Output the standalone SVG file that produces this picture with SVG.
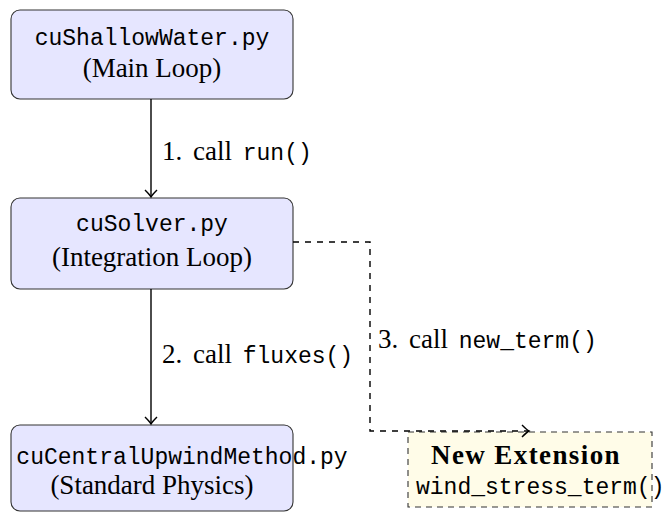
<svg xmlns="http://www.w3.org/2000/svg" width="665" height="512" viewBox="0 0 665 512">
<defs>
<marker id="arr" viewBox="-10 -8 12 16" markerWidth="12" markerHeight="16" refX="0" refY="0" orient="auto" markerUnits="userSpaceOnUse">
<path d="M-7,-6 Q-2,-1 0,0 Q-2,1 -7,6" fill="none" stroke="#000" stroke-width="1.4"/>
</marker>
<style>
.box{fill:#e6e6ff;stroke:#333;stroke-width:1.1}
.ext{fill:#fffce8;stroke:#333;stroke-width:1.1;stroke-dasharray:6 5}
.mono{font-family:"Liberation Mono","DejaVu Sans Mono",monospace;font-size:23px;fill:#000;letter-spacing:0;word-spacing:0}
.serif{font-family:"Liberation Serif","DejaVu Serif",serif;font-size:27px;fill:#000}
.lbl{word-spacing:4px}
.bold{font-weight:bold;letter-spacing:1.4px}
.edge{fill:none;stroke:#000;stroke-width:1.4}
.dash{stroke-dasharray:6 6}
</style>
</defs>
<g id="n1">
<rect class="box" x="11" y="10" width="282" height="89" rx="9"/>
<text class="mono" x="152" y="45" text-anchor="middle">cuShallowWater.py</text>
<text class="serif" x="152" y="77" text-anchor="middle">(Main Loop)</text>
</g>
<g id="n2">
<rect class="box" x="11" y="198" width="282" height="91" rx="9"/>
<text class="mono" x="152" y="231" text-anchor="middle">cuSolver.py</text>
<text class="serif" x="152" y="266" text-anchor="middle">(Integration Loop)</text>
</g>
<g id="n3">
<rect class="box" x="11" y="425" width="282" height="86" rx="9"/>
<text class="mono" x="182" y="464" text-anchor="middle">cuCentralUpwindMethod.py</text>
<text class="serif" x="152" y="494" text-anchor="middle">(Standard Physics)</text>
</g>
<g id="n4">
<rect class="ext" x="408" y="432" width="244" height="75"/>
<text class="serif bold" x="526" y="464" text-anchor="middle">New Extension</text>
<text class="mono" x="416" y="494">wind_stress_term()</text>
</g>
<g id="edges">
<line class="edge" x1="151" y1="99" x2="151" y2="197" marker-end="url(#arr)"/>
<line class="edge" x1="151" y1="289" x2="151" y2="424" marker-end="url(#arr)"/>
<path class="edge dash" d="M293,242 H370 V431 H529" marker-end="url(#arr)"/>
<text class="serif lbl" x="162" y="160">1. call <tspan class="mono">run()</tspan></text>
<text class="serif lbl" x="162" y="363">2. call <tspan class="mono">fluxes()</tspan></text>
<text class="serif lbl" x="378" y="348">3. call <tspan class="mono">new_term()</tspan></text>
</g>
</svg>
